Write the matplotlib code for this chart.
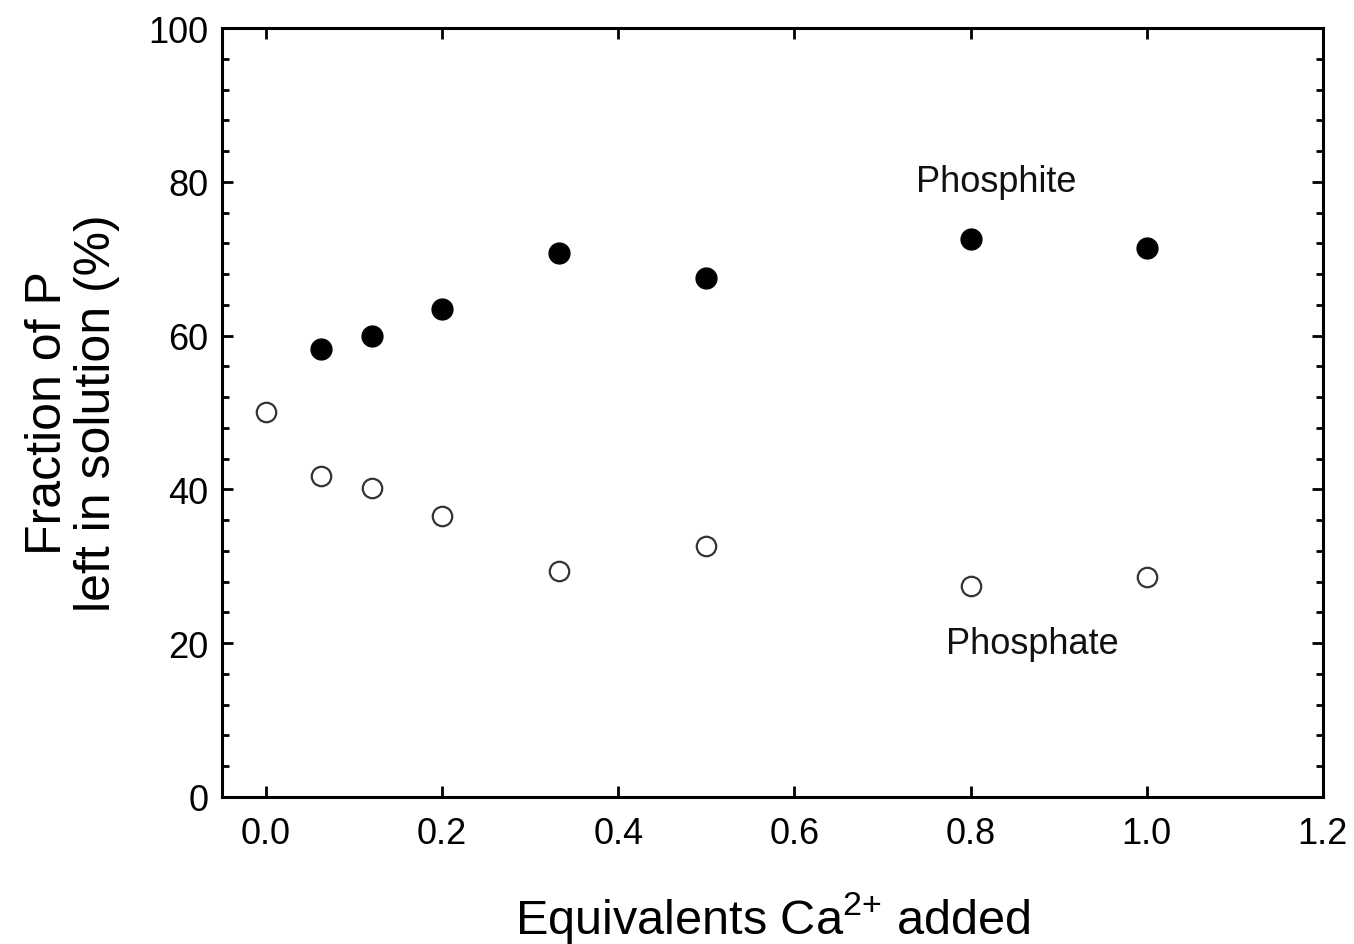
import matplotlib
matplotlib.use("Agg")
import matplotlib.pyplot as plt
from matplotlib.ticker import MultipleLocator

plt.rcParams['font.family'] = ['Liberation Sans', 'DejaVu Sans']
plt.rcParams['mathtext.fontset'] = 'custom'
plt.rcParams['mathtext.rm'] = 'Liberation Sans'

ca_added = [0.0625, 0.12, 0.2, 0.333, 0.5, 0.8, 1.0]
phosphite = [58.3, 59.9, 63.4, 70.7, 67.5, 72.6, 71.4]

ca_added_phosphate = [0.0, 0.0625, 0.12, 0.2, 0.333, 0.5, 0.8, 1.0]
phosphate = [50.1, 41.8, 40.2, 36.6, 29.4, 32.6, 27.4, 28.6]

fig = plt.figure(figsize=(13.54, 9.45), dpi=100)
ax = fig.add_axes([0.164, 0.1556, 0.813, 0.8137])

ax.plot(ca_added, phosphite, 'o', color='black', markersize=15, linestyle='none')
ax.plot(ca_added_phosphate, phosphate, 'o', markerfacecolor='white',
        markeredgecolor='#333333', markeredgewidth=1.6, markersize=14, linestyle='none')

ax.text(0.829, 80.1, 'Phosphite', fontsize=26, ha='center', va='center', color='#111111')
ax.text(0.87, 19.9, 'Phosphate', fontsize=26, ha='center', va='center', color='#111111')

ax.set_xlim(-0.05, 1.2)
ax.set_ylim(0, 100)
ax.yaxis.set_major_locator(MultipleLocator(20))
ax.yaxis.set_minor_locator(MultipleLocator(4))
ax.set_xticks([0.0, 0.2, 0.4, 0.6, 0.8, 1.0, 1.2])
ax.set_xticklabels(['0.0', '0.2', '0.4', '0.6', '0.8', '1.0', '1.2'])

for s in ax.spines.values():
    s.set_linewidth(2.2)

ax.tick_params(axis='both', which='major', direction='in', length=8, width=2,
               labelsize=26, top=True, right=True)
ax.tick_params(axis='x', which='major', pad=14)
ax.tick_params(axis='y', which='major', pad=10)
ax.tick_params(axis='y', which='minor', direction='in', length=5, width=2, right=True)
ax.tick_params(axis='x', which='minor', bottom=False, top=False)

ax.set_xlabel('Equivalents Ca$^{2{+}}$ added', fontsize=35, labelpad=27)
ax.set_ylabel('Fraction of P\nleft in solution (%)', fontsize=36, labelpad=20, linespacing=1.1)

fig.savefig('out.png', dpi=100)
